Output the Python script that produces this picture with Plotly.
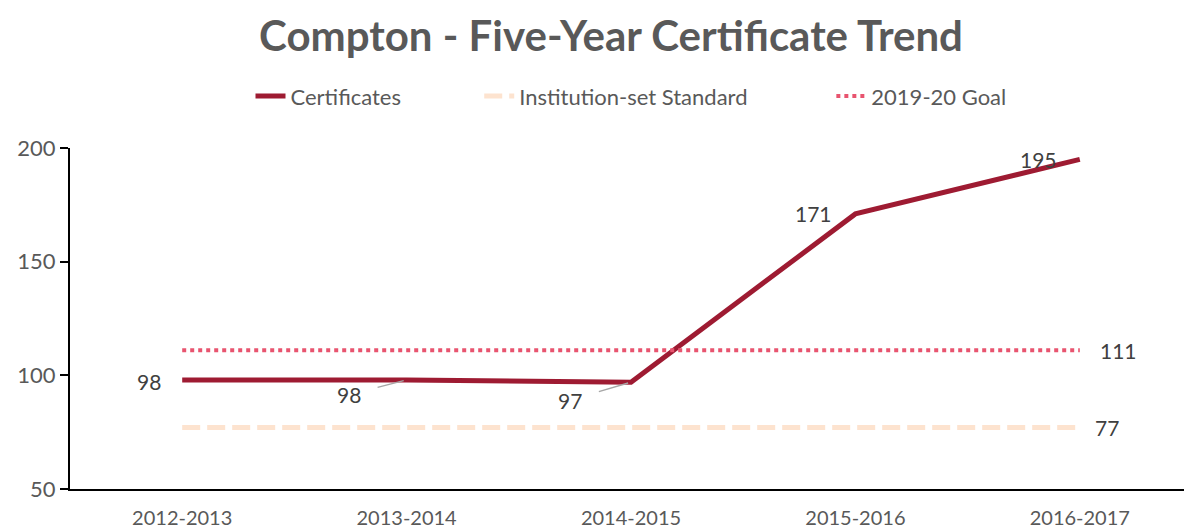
import plotly.graph_objects as go

years = ["2012-2013", "2013-2014", "2014-2015", "2015-2016", "2016-2017"]
certificates = [98, 98, 97, 171, 195]
standard = [77, 77, 77, 77, 77]
goal = [111, 111, 111, 111, 111]
y_ticks = [50, 100, 150, 200]

FONT = "Lato"
NB = "\u00a0"
fig = go.Figure()
fig.add_trace(go.Scatter(x=years, y=certificates, mode="lines", name="Certificates" + NB * 13,
                         line=dict(color="#9E1B32", width=5)))
fig.add_trace(go.Scatter(x=years, y=standard, mode="lines", name="Institution-set Standard" + NB * 14,
                         line=dict(color="#FDE3CF", width=5, dash="18px,7px")))
fig.add_trace(go.Scatter(x=years, y=goal, mode="lines", name="2019-20 Goal",
                         line=dict(color="#E8546F", width=4, dash="dot")))

lab_font = dict(family=FONT, size=21, color="#404040")
ann = []
# label offsets: (dx, dy in px, leader line?)
offsets = [(-33, 2, False), (-58, 15, True), (-61, 18, True), (-42, 0, False), (-41, 0, False)]
for i, (dx, dy, arrow) in enumerate(offsets):
    if arrow:
        ann.append(dict(x=years[i], y=certificates[i], xref="x", yref="y", text=str(certificates[i]),
                        showarrow=True, arrowhead=0, arrowwidth=1.5, arrowcolor="#A6A6A6",
                        ax=dx, ay=dy, standoff=3, startstandoff=16, font=lab_font))
    else:
        ann.append(dict(x=years[i], y=certificates[i], xref="x", yref="y", text=str(certificates[i]),
                        showarrow=False, xshift=dx, yshift=-dy, font=lab_font))
ann.append(dict(x=years[-1], y=goal[-1], xref="x", yref="y", text=str(goal[-1]), showarrow=False,
                xshift=39, font=lab_font))
ann.append(dict(x=years[-1], y=standard[-1], xref="x", yref="y", text=str(standard[-1]), showarrow=False,
                xshift=27, font=lab_font))

fig.update_layout(
    width=1184, height=523,
    margin=dict(l=62, r=0, t=140, b=42),
    paper_bgcolor="white", plot_bgcolor="white",
    title=dict(text="<b>Compton - Five-Year Certificate Trend</b>", x=(611 - 8) / 1184, xanchor="center",
               y=(523 - 28) / 523, yanchor="middle", yref="container",
               font=dict(family=FONT, size=42, color="#595959")),
    legend=dict(orientation="h", x=0.5, xanchor="center", y=1.152, yanchor="middle",
                font=dict(family=FONT, size=22, color="#595959")),
    xaxis=dict(type="category", range=[-0.5, 4.5], showline=True, linecolor="black", linewidth=2,
               showgrid=False, ticks="", ticklabelstandoff=10, automargin=False,
               tickfont=dict(family=FONT, size=20, color="#595959"), zeroline=False),
    yaxis=dict(range=[50, 200], tickvals=y_ticks, showline=True, linecolor="black", linewidth=2,
               showgrid=False, ticks="outside", ticklen=8, tickcolor="black", tickwidth=2,
               tickfont=dict(family=FONT, size=22, color="#595959"), zeroline=False),
    annotations=ann,
    showlegend=True,
)
fig.write_html("out.html")
